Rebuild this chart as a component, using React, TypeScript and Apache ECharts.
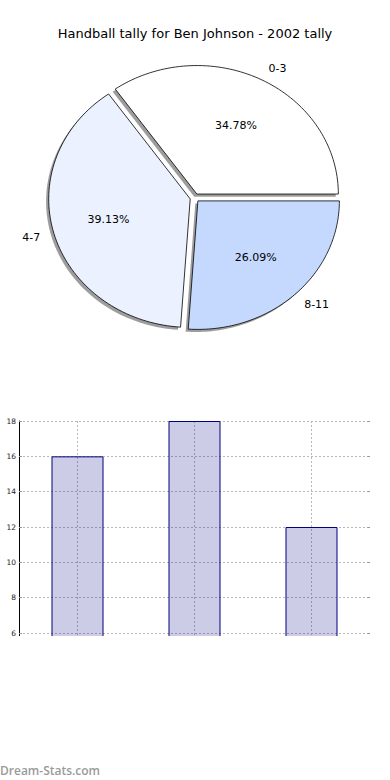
import React, { useEffect, useRef } from "react";
import * as echarts from "echarts";

const titleText = "Handball tally for Ben Johnson - 2002 tally";
const categories = ["0-3", "4-7", "8-11"];
const goals = [16, 18, 12];
const yTicks = { min: 0, max: 18, interval: 2 };
const yAxisName = "Goals scored";
const watermark = "Dream-Stats.com";

const sliceColors = ["#ffffff", "#ebf1fe", "#c5d9fe"];
const FONT = "DejaVu Sans";

// pie geometry (ellipse, like the matplotlib original)
const PIE_CX = 194.7;
const PIE_CY = 197.8;
const RX = 141.5;
const RY = 128.5;
const EXPLODE = 0.033;
const PCT_DIST = 0.6;
const LABEL_DIST = 1.1;

export default function App() {
  const ref = useRef<HTMLDivElement>(null);

  useEffect(() => {
    if (!ref.current) return;
    const chart = echarts.init(ref.current, null, { renderer: "svg" });
    const total = goals.reduce((a, b) => a + b, 0);

    const renderSlice = (params: any, api: any) => {
      const i = params.dataIndex;
      const v = api.value(1) as number;
      let start = 0;
      for (let j = 0; j < i; j++) start += goals[j];
      const a0 = (start / total) * Math.PI * 2;
      const a1 = ((start + v) / total) * Math.PI * 2;
      const mid = (a0 + a1) / 2;
      const ox = PIE_CX + EXPLODE * RX * Math.cos(mid);
      const oy = PIE_CY - EXPLODE * RY * Math.sin(mid);
      const pts: number[][] = [[ox, oy]];
      const steps = 80;
      for (let k = 0; k <= steps; k++) {
        const t = a0 + ((a1 - a0) * k) / steps;
        pts.push([ox + RX * Math.cos(t), oy - RY * Math.sin(t)]);
      }
      const shadowPts = pts.map((p) => [p[0] - 2.6, p[1] + 2.6]);
      const pct = ((v / total) * 100).toFixed(2) + "%";
      const lx = ox + LABEL_DIST * RX * Math.cos(mid);
      const ly = oy - LABEL_DIST * RY * Math.sin(mid);
      const px = ox + PCT_DIST * RX * Math.cos(mid);
      const py = oy - PCT_DIST * RY * Math.sin(mid);
      return {
        type: "group",
        children: [
          {
            type: "polygon",
            shape: { points: shadowPts },
            style: { fill: "rgba(60,60,60,0.5)", stroke: "none" },
            z2: 1,
          },
          {
            type: "polygon",
            shape: { points: pts },
            style: { fill: sliceColors[i], stroke: "#000", lineWidth: 0.8 },
            z2: 2,
          },
          {
            type: "text",
            x: px,
            y: py,
            style: {
              text: pct,
              fill: "#000",
              fontSize: 11,
              fontFamily: FONT,
              align: "center",
              verticalAlign: "middle",
            },
            z2: 3,
          },
          {
            type: "text",
            x: lx,
            y: ly,
            style: {
              text: categories[i],
              fill: "#000",
              fontSize: 11,
              fontFamily: FONT,
              align: Math.cos(mid) >= 0 ? "left" : "right",
              verticalAlign: "middle",
            },
            z2: 3,
          },
        ],
      };
    };

    const gridLine = { color: "#b8b8b8", width: 1, type: [2, 2] as number[] };

    chart.setOption({
      animation: false,
      backgroundColor: "#ffffff",
      title: {
        text: titleText,
        left: "center",
        top: 22,
        textStyle: { fontSize: 13, fontWeight: "normal", fontFamily: FONT, color: "#000" },
      },
      grid: {
        left: 19,
        top: 421,
        width: 351,
        height: 318,
        containLabel: false,
        outerBoundsMode: "none",
      },
      xAxis: [
        {
          type: "category",
          data: categories,
          position: "bottom",
          boundaryGap: true,
          axisLine: { show: true, lineStyle: { color: "#000", width: 1 } },
          axisTick: { show: false },
          axisLabel: { show: false },
          splitLine: { show: true, alignWithLabel: true, lineStyle: gridLine },
        },
        {
          type: "category",
          data: categories,
          position: "top",
          boundaryGap: true,
          axisLine: { show: true, lineStyle: { color: "#000", width: 1 } },
          axisTick: { show: true, inside: true, length: 3, alignWithLabel: true, lineStyle: { color: "#999" } },
          axisLabel: { show: false },
          splitLine: { show: false },
        },
      ],
      yAxis: [
        {
          type: "value",
          position: "left",
          min: yTicks.min,
          max: yTicks.max,
          interval: yTicks.interval,
          name: yAxisName,
          nameLocation: "middle",
          nameRotate: 90,
          nameGap: 20,
          nameTextStyle: { fontSize: 9, fontFamily: FONT, color: "#000" },
          axisLine: { show: true, lineStyle: { color: "#000", width: 1 } },
          axisTick: { show: true, inside: true, length: 3, lineStyle: { color: "#999" } },
          axisLabel: { fontSize: 7.5, fontFamily: FONT, color: "#222", margin: 3 },
          splitLine: { show: true, lineStyle: gridLine },
        },
        {
          type: "value",
          position: "right",
          min: yTicks.min,
          max: yTicks.max,
          interval: yTicks.interval,
          axisLine: { show: false },
          axisTick: { show: true, inside: true, length: 3, lineStyle: { color: "#999" } },
          axisLabel: { show: false },
          splitLine: { show: false },
        },
      ],
      series: [
        {
          type: "custom",
          coordinateSystem: "none",
          silent: true,
          data: goals.map((v, i) => [i, v]),
          renderItem: renderSlice,
        },
        {
          type: "bar",
          xAxisIndex: 0,
          yAxisIndex: 0,
          data: goals,
          barWidth: 52,
          silent: true,
          itemStyle: { color: "rgba(0,0,128,0.2)", borderColor: "#000080", borderWidth: 1 },
        },
      ],
      graphic: [
        {
          type: "rect",
          shape: { x: 0, y: 636, width: 390, height: 126 },
          style: { fill: "#ffffff" },
          z: 100,
          silent: true,
        },
        {
          type: "text",
          x: 0,
          y: 770,
          style: {
            text: watermark,
            fill: "#9a9a9a",
            fontSize: 12,
            fontFamily: "Open Sans",
            fontWeight: 600,
            verticalAlign: "middle",
            align: "left",
          },
          z: 101,
        },
      ],
    });
    return () => chart.dispose();
  }, []);

  return (
    <div
      ref={ref}
      style={{ position: "fixed", left: 0, top: 0, width: 390, height: 780, background: "#fff" }}
    />
  );
}
